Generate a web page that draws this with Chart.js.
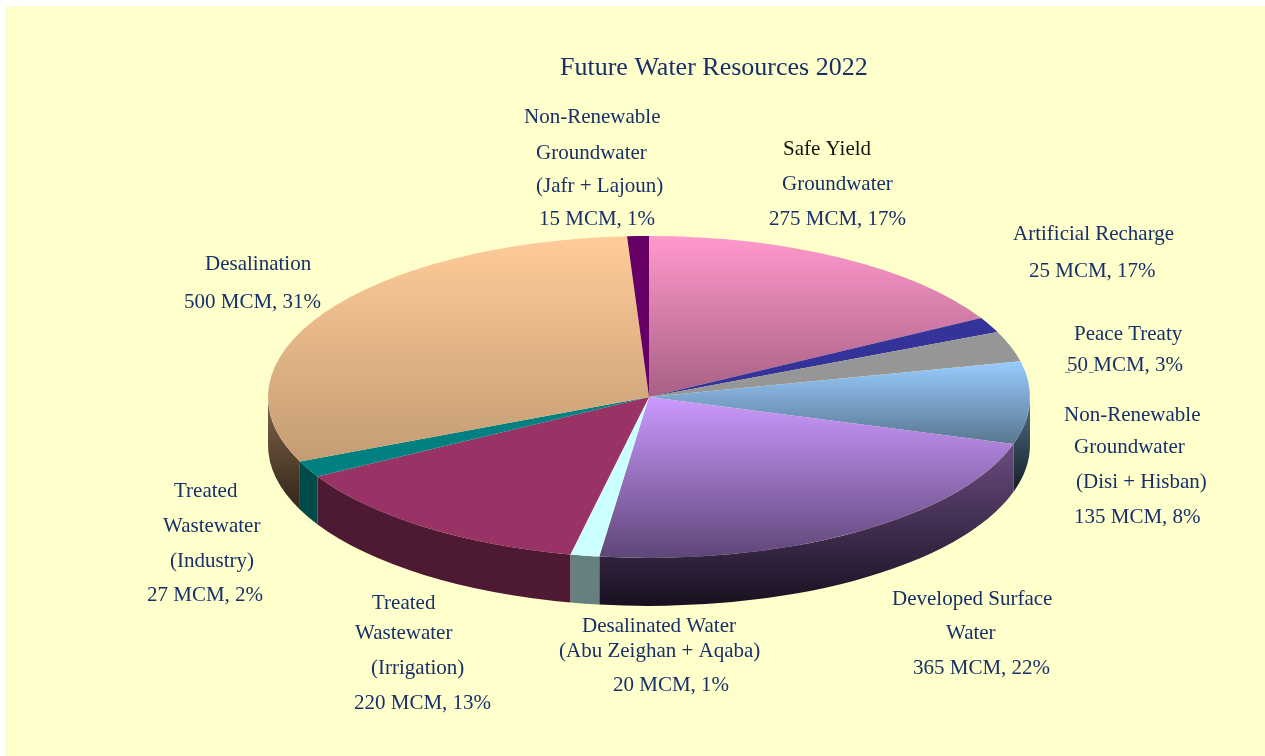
<!DOCTYPE html>
<html><head><meta charset="utf-8">
<style>html,body{margin:0;padding:0;background:#fff}canvas{display:block}</style>
<script src="https://cdn.jsdelivr.net/npm/chart.js@4"></script>
</head><body><canvas id="c" width="1265" height="756"></canvas>
<script>
const chartTitle = "Future Water Resources 2022";
const categories = ["Safe Yield Groundwater","Artificial Recharge","Peace Treaty","Non-Renewable Groundwater (Disi + Hisban)","Developed Surface Water","Desalinated Water (Abu Zeighan + Aqaba)","Treated Wastewater (Irrigation)","Treated Wastewater (Industry)","Desalination","Non-Renewable Groundwater (Jafr + Lajoun)"];
const valuesMCM = [275,25,50,135,365,20,220,27,500,15];
const labelLines = [
 ["Safe Yield","Groundwater","275 MCM, 17%"],
 ["Artificial Recharge","25 MCM, 17%"],
 ["Peace Treaty","50 MCM, 3%"],
 ["Non-Renewable","Groundwater","(Disi + Hisban)","135 MCM, 8%"],
 ["Developed Surface","Water","365 MCM, 22%"],
 ["Desalinated Water","(Abu Zeighan + Aqaba)","20 MCM, 1%"],
 ["Treated","Wastewater","(Irrigation)","220 MCM, 13%"],
 ["Treated","Wastewater","(Industry)","27 MCM, 2%"],
 ["Desalination","500 MCM, 31%"],
 ["Non-Renewable","Groundwater","(Jafr + Lajoun)","15 MCM, 1%"]
];
const topColors    = ["#FF99CC","#333399","#969696","#99CCFF","#CC99FF","#CCFFFF","#993366","#008080","#FFCC99","#660066"];
const bottomColors = ["#A86084","#333399","#969696","#587690","#5E4678","#CCFFFF","#993366","#008080","#C49C74","#660066"];
const sideTop      = ["#7F4C66","#1A1A4D","#4B4B4B","#527088","#6A4C80","#668080","#4D1933","#004A4A","#80644A","#330033"];
const sideBottom   = ["#3F2633","#0D0D26","#252525","#141E26","#181020","#668080","#4D1933","#004A4A","#33261A","#1A001A"];

// layout (separate from data): [left, centreY] for each text line
const labelPos = [
 [[783,148],[782,183],[769,218]],
 [[1013,233],[1029,270]],
 [[1074,333],[1067,364]],
 [[1064,414],[1074,446],[1076,481],[1074,516]],
 [[892,598],[946,632],[913,667]],
 [[582,625],[559,650],[613,684]],
 [[372,602],[355,632],[371,667],[354,702]],
 [[174,490],[163,525],[170,560],[147,594]],
 [[205,263],[184,301]],
 [[524,116],[536,152],[536,185],[539,218]]
];
const CX=649, CY=397, RX=381, RY=161, DEPTH=48;
const INK="#17306A";

function sliceGradient(c){
  const ctx=c.chart.ctx, i=c.dataIndex;
  const total=valuesMCM.reduce((a,b)=>a+b,0);
  let sum=0; for(let k=0;k<i;k++) sum+=valuesMCM[k];
  const a0=sum/total*2*Math.PI, a1=(sum+valuesMCM[i])/total*2*Math.PI;
  const ys=[CY, CY-RX*Math.cos(a0), CY-RX*Math.cos(a1)];
  if(a0<=Math.PI && a1>=Math.PI) ys.push(CY+RX);
  if(a0<=0) ys.push(CY-RX);
  const g=ctx.createLinearGradient(0,Math.min(...ys),0,Math.max(...ys));
  g.addColorStop(0,topColors[i]); g.addColorStop(1,bottomColors[i]);
  return g;
}
const pie3d={
  id:"pie3d",
  beforeDraw(chart){
    const {ctx,width,height}=chart;
    ctx.save();
    ctx.fillStyle="#fff"; ctx.fillRect(0,0,width,height);
    ctx.fillStyle="#FFFFCC"; ctx.fillRect(5,6,width,height);
    ctx.restore();
  },
  beforeDatasetsDraw(chart){
    const ctx=chart.ctx, arcs=chart.getDatasetMeta(0).data;
    ctx.save();
    arcs.forEach((arc,i)=>{
      const {startAngle,endAngle}=arc.getProps(["startAngle","endAngle"],true);
      const s=Math.max(startAngle,0), e=Math.min(endAngle,Math.PI);
      if(s>=e) return;
      const yTop=CY+RY*Math.min(Math.sin(s),Math.sin(e));
      const yBot=CY+RY*((s<=Math.PI/2&&e>=Math.PI/2)?1:Math.max(Math.sin(s),Math.sin(e)))+DEPTH;
      const g=ctx.createLinearGradient(0,yTop,0,yBot);
      g.addColorStop(0,sideTop[i]); g.addColorStop(1,sideBottom[i]);
      ctx.fillStyle=g;
      ctx.beginPath();
      ctx.ellipse(CX,CY,RX,RY,0,s,e);
      ctx.ellipse(CX,CY+DEPTH,RX,RY,0,e,s,true);
      ctx.closePath(); ctx.fill();
    });
    ctx.restore();
    ctx.save();
    ctx.translate(CX,CY); ctx.scale(1,RY/RX); ctx.translate(-CX,-CY);
  },
  afterDatasetsDraw(chart){
    const ctx=chart.ctx;
    ctx.restore();
    ctx.save();
    ctx.textBaseline="alphabetic"; ctx.textAlign="left";
    ctx.fillStyle=INK;
    ctx.font='26px "Liberation Serif"';
    ctx.fillText(chartTitle,560,75);
    ctx.font='21px "Liberation Serif"';
    labelLines.forEach((lines,i)=>lines.forEach((t,j)=>{
      ctx.fillStyle=(i===0&&j===0)?"#14140F":INK;
      ctx.fillText(t,labelPos[i][j][0],labelPos[i][j][1]+7);
    }));
    // faint stray underline beneath "50" in the original
    ctx.strokeStyle="rgba(23,48,106,0.55)"; ctx.lineWidth=1;
    ctx.setLineDash([5,7]);
    ctx.beginPath(); ctx.moveTo(1065,372.5); ctx.lineTo(1100,372.5); ctx.stroke();
    ctx.restore();
  }
};
new Chart(document.getElementById("c"),{
  type:"pie",
  data:{labels:categories,datasets:[{data:valuesMCM,backgroundColor:sliceGradient,borderWidth:0,hoverOffset:0}]},
  options:{
    responsive:false,animation:false,rotation:0,circumference:360,radius:RX,
    layout:{padding:{left:33,top:38,right:0,bottom:0}},
    plugins:{legend:{display:false},title:{display:false},tooltip:{enabled:false}},
    events:[]
  },
  plugins:[pie3d]
});
</script></body></html>
